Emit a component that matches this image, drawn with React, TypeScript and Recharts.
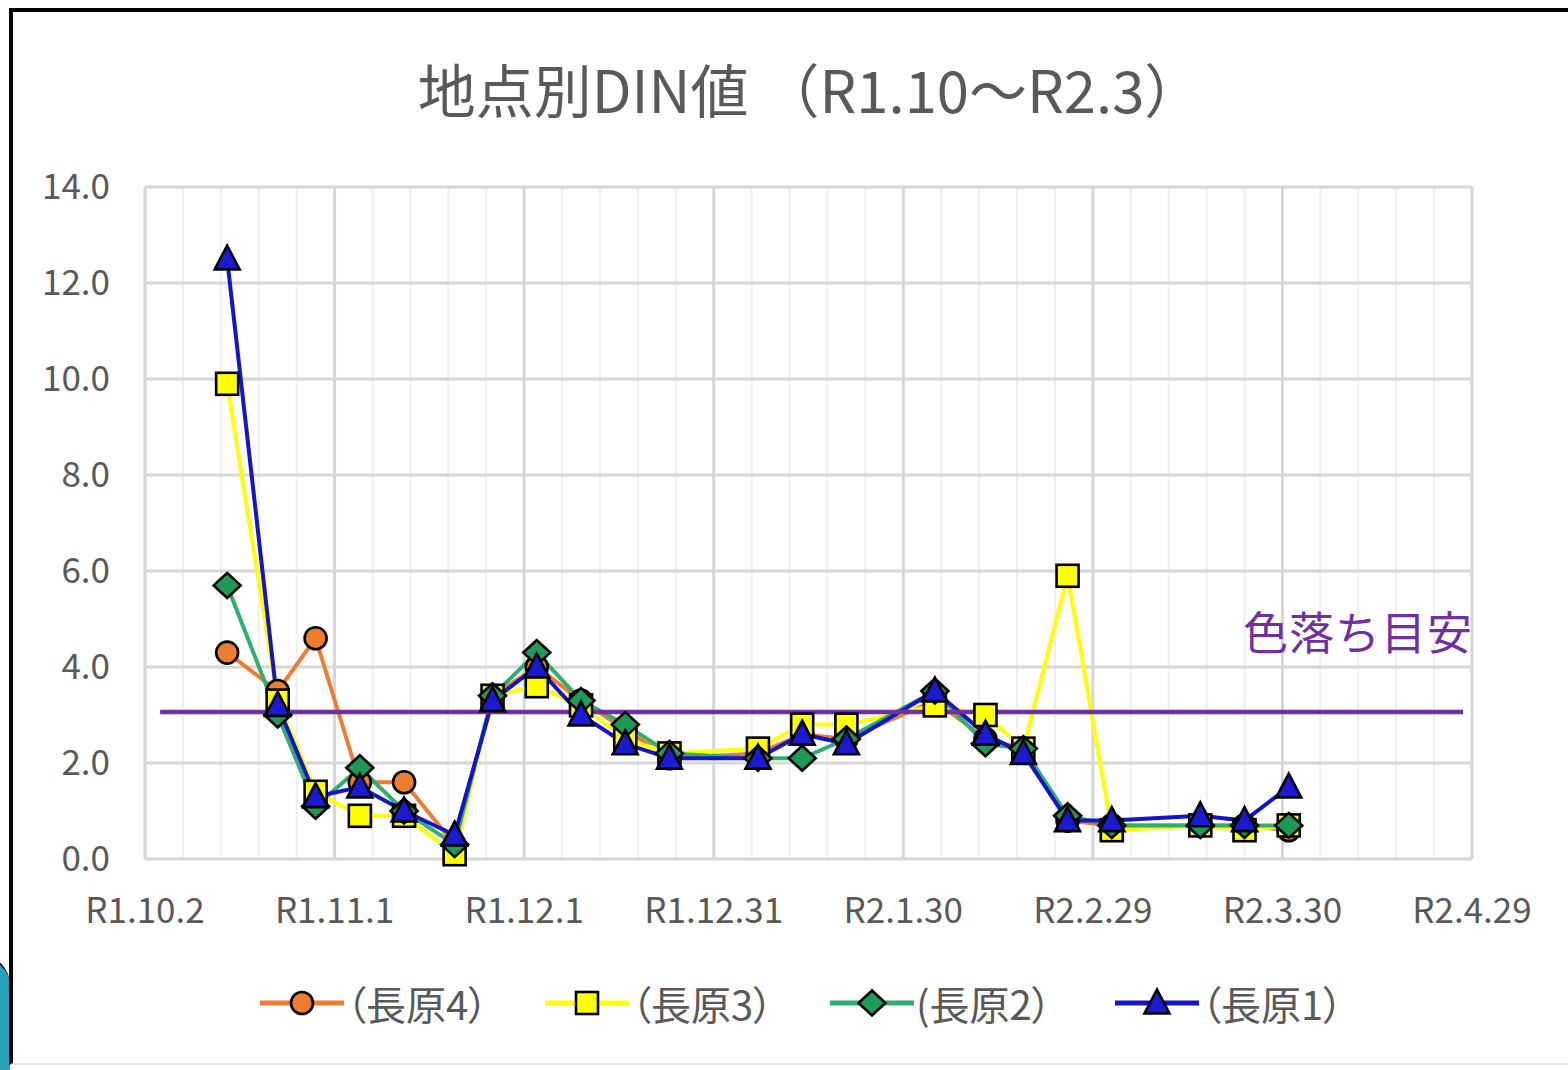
import React from "react";
import {
  LineChart,
  Line,
  XAxis,
  YAxis,
  CartesianGrid,
  ReferenceLine,
} from "recharts";

// Sampling days, counted in days from R1.10.2 (2019-10-02)
const days = [13, 21, 27, 34, 41, 49, 55, 62, 69, 76, 83, 97, 104, 111, 125, 133, 139, 146, 153, 167, 174, 181];

const nagahara4 = [4.3, 3.5, 4.6, 1.6, 1.6, 0.3, 3.4, 4.0, 3.3, 2.7, 2.1, 2.2, 2.6, 2.5, 3.3, 2.5, 2.3, 0.8, 0.7, 0.7, 0.7, 0.6];
const nagahara3 = [9.9, 3.3, 1.4, 0.9, 0.9, 0.1, 3.4, 3.6, 3.2, 2.5, 2.2, 2.3, 2.8, 2.8, 3.2, 3.0, 2.3, 5.9, 0.6, 0.7, 0.6, 0.7];
const nagahara2 = [5.7, 3.0, 1.1, 1.9, 1.0, 0.3, 3.4, 4.3, 3.3, 2.8, 2.2, 2.1, 2.1, 2.5, 3.5, 2.4, 2.3, 0.9, 0.7, 0.7, 0.7, 0.7];
const nagahara1 = [12.5, 3.2, 1.3, 1.5, 1.0, 0.5, 3.3, 4.0, 3.0, 2.4, 2.1, 2.1, 2.6, 2.4, 3.5, 2.6, 2.2, 0.8, 0.8, 0.9, 0.8, 1.5];

const xTicks = [0, 30, 60, 90, 120, 150, 180, 210];
const xTickLabels = ["R1.10.2", "R1.11.1", "R1.12.1", "R1.12.31", "R2.1.30", "R2.2.29", "R2.3.30", "R2.4.29"];
const xMinorTicks = [6, 12, 18, 24, 36, 42, 48, 54, 66, 72, 78, 84, 96, 102, 108, 114, 126, 132, 138, 144, 156, 162, 168, 174, 186, 192, 198, 204];
const yTicks = [0, 2, 4, 6, 8, 10, 12, 14];

const threshold = 3.06;
const thresholdSpan = [2.4, 208.6];
const thresholdLabel = "色落ち目安";
const title = "地点別DIN値 （R1.10～R2.3）";

const data = days.map((d, i) => ({
  d,
  s4: nagahara4[i],
  s3: nagahara3[i],
  s2: nagahara2[i],
  s1: nagahara1[i],
}));

type Kind = "circle" | "square" | "diamond" | "triangle";

const series: { key: string; name: string; line: string; fill: string; kind: Kind }[] = [
  { key: "s4", name: "（長原4）", line: "#ED7D31", fill: "#ED7D31", kind: "circle" },
  { key: "s3", name: "（長原3）", line: "#FFFF00", fill: "#FFFF00", kind: "square" },
  { key: "s2", name: "(長原2）", line: "#2EAF6F", fill: "#1E9A55", kind: "diamond" },
  { key: "s1", name: "（長原1）", line: "#1414C8", fill: "#1A1AD0", kind: "triangle" },
];

const FONT = "'Noto Sans CJK JP', 'Noto Sans', sans-serif";
const TEXT = "#595959";

function MarkerShape({ cx, cy, kind, fill }: { cx: number; cy: number; kind: Kind; fill: string }) {
  const sw = 2.6;
  if (kind === "circle") return <circle cx={cx} cy={cy} r={11} fill={fill} stroke="#000" strokeWidth={sw} />;
  if (kind === "square") return <rect x={cx - 11} y={cy - 11} width={22} height={22} fill={fill} stroke="#000" strokeWidth={sw} />;
  if (kind === "diamond")
    return (
      <polygon
        points={`${cx},${cy - 12.5} ${cx + 13.5},${cy} ${cx},${cy + 12.5} ${cx - 13.5},${cy}`}
        fill={fill}
        stroke="#000"
        strokeWidth={sw}
      />
    );
  return (
    <polygon
      points={`${cx},${cy - 13.5} ${cx + 12.5},${cy + 10.5} ${cx - 12.5},${cy + 10.5}`}
      fill={fill}
      stroke="#000"
      strokeWidth={sw}
    />
  );
}

function makeDot(kind: Kind, fill: string) {
  return (props: any) => {
    const { cx, cy, index } = props;
    if (cx == null || cy == null) return <g key={`e-${index}`} />;
    return <MarkerShape key={`m-${index}`} cx={cx} cy={cy} kind={kind} fill={fill} />;
  };
}

export default function App() {
  return (
    <div
      style={{
        position: "absolute",
        left: 0,
        top: 0,
        width: 1568,
        height: 1070,
        background: "#fff",
        overflow: "hidden",
        fontFamily: FONT,
      }}
    >
      {/* decorative corner shape */}
      <div
        style={{
          position: "absolute",
          left: -30,
          top: 955,
          width: 40,
          height: 140,
          background: "#2a9fb8",
          borderTop: "3px solid #000",
          borderRadius: "0 30px 0 0",
        }}
      />
      {/* card frame */}
      <div
        style={{
          position: "absolute",
          left: 9,
          top: 8,
          width: 1580,
          height: 1057,
          borderTop: "4px solid #000",
          borderLeft: "4px solid #000",
          borderBottom: "2px solid #e8e8e8",
          background: "#fff",
          boxSizing: "border-box",
        }}
      />
      <div
        style={{
          position: "absolute",
          left: 17,
          width: 1586,
          top: 50,
          textAlign: "center",
          fontSize: 58,
          color: TEXT,
          lineHeight: "76px",
          whiteSpace: "nowrap",
        }}
      >
        {title}
      </div>
      <div style={{ position: "absolute", left: 0, top: 0 }}>
        <LineChart
          width={1568}
          height={1070}
          data={data}
          margin={{ top: 187, right: 96, bottom: 131, left: 0 }}
        >
          <XAxis
            xAxisId="minor"
            dataKey="d"
            type="number"
            domain={[0, 210]}
            ticks={xMinorTicks}
            hide
          />
          <CartesianGrid xAxisId="minor" horizontal={false} stroke="#efefef" strokeWidth={2} />
          <CartesianGrid stroke="#d6d6d6" strokeWidth={3} />
          <XAxis
            dataKey="d"
            type="number"
            domain={[0, 210]}
            ticks={xTicks}
            tickFormatter={(v: number) => xTickLabels[xTicks.indexOf(v)] ?? ""}
            axisLine={false}
            tickLine={false}
            tickSize={0}
            tickMargin={39}
            height={80}
            interval={0}
            tick={{ fill: TEXT, fontSize: 35, fontFamily: FONT }}
          />
          <YAxis
            type="number"
            domain={[0, 14]}
            ticks={yTicks}
            tickFormatter={(v: number) => v.toFixed(1)}
            axisLine={false}
            tickLine={false}
            tickSize={0}
            tickMargin={35}
            width={145}
            interval={0}
            tick={{ fill: TEXT, fontSize: 35, fontFamily: FONT }}
          />
          {series.map((s) => (
            <Line
              key={s.key}
              dataKey={s.key}
              xAxisId={0}
              type="linear"
              stroke={s.line}
              strokeWidth={4}
              dot={makeDot(s.kind, s.fill)}
              activeDot={false}
              isAnimationActive={false}
            />
          ))}
          <ReferenceLine
            segment={[
              { x: thresholdSpan[0], y: threshold },
              { x: thresholdSpan[1], y: threshold },
            ]}
            stroke="#7030A0"
            strokeWidth={4.5}
            ifOverflow="visible"
          />
        </LineChart>
      </div>
      <div
        style={{
          position: "absolute",
          left: 1243,
          top: 601,
          fontSize: 45,
          color: "#7030A0",
          lineHeight: "60px",
          whiteSpace: "nowrap",
          letterSpacing: 1,
        }}
      >
        {thresholdLabel}
      </div>
      {/* legend */}
      <div
        style={{
          position: "absolute",
          left: 258,
          top: 977,
          display: "flex",
          alignItems: "center",
          height: 52,
        }}
      >
        {series.map((s, i) => (
          <div key={s.key} style={{ display: "flex", alignItems: "center", width: i < 3 ? 285 : 240 }}>
            <svg width={88} height={40}>
              <line x1={2} y1={20} x2={86} y2={20} stroke={s.line} strokeWidth={5} />
              <MarkerShape cx={44} cy={20} kind={s.kind} fill={s.fill} />
            </svg>
            <span
              style={{
                fontSize: 40,
                color: TEXT,
                whiteSpace: "nowrap",
                fontFeatureSettings: '"palt" 1',
                lineHeight: "52px",
              }}
            >
              {s.name}
            </span>
          </div>
        ))}
      </div>
    </div>
  );
}
